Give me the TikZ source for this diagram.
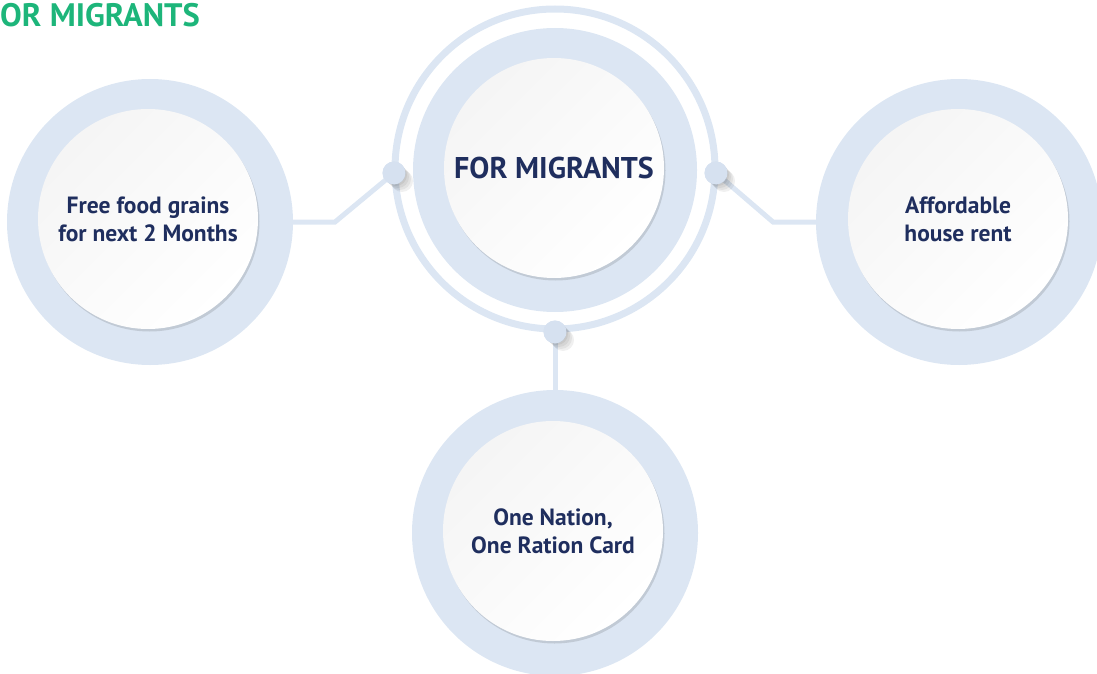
\documentclass[tikz,border=0pt]{standalone}
\usepackage{fontspec}
\setmainfont{PT Sans}
\usetikzlibrary{shadows}
\definecolor{ringblue}{RGB}{220,230,243}
\definecolor{dotblue}{RGB}{214,225,240}
\definecolor{navy}{RGB}{31,46,94}
\definecolor{titlegreen}{RGB}{29,181,122}
\begin{document}
\begin{tikzpicture}[x=1pt,y=-1pt,
  outerdisk/.style={circle, fill=ringblue, minimum size=286pt, inner sep=0pt},
  innerdisk/.style={circle, minimum size=220pt, inner sep=0pt,
    top color=black!4, bottom color=white, shading angle=45,
    drop shadow={shadow xshift=1.5pt, shadow yshift=-2.5pt, fill=black, opacity=0.12},
    text=navy, align=center, font=\bfseries\fontsize{23.5}{28}\selectfont},
  link/.style={draw=ringblue, line width=5pt},
  dotnode/.style={circle, fill=dotblue, minimum size=23pt, inner sep=0pt},
]
\useasboundingbox (0,0) rectangle (1097,674);
% title
\node[anchor=base west, inner sep=0pt, text=titlegreen, font=\bfseries\fontsize{32.5}{38}\selectfont] (title) at (0,27) {OR MIGRANTS};

% outer disks
\node[outerdisk] (lout) at (150,222) {};
\node[outerdisk] (rout) at (959,222) {};
\node[outerdisk] (bout) at (555,533) {};

% centre
\node[circle, draw=ringblue, line width=7pt, minimum size=320pt, inner sep=0pt] (cring) at (555,169) {};
\node[circle, fill=ringblue, minimum size=284pt, inner sep=0pt] (cdisk) at (555,170) {};

% connectors
\node[dotnode] (ldot) at (394,173) {};
\node[dotnode] (rdot) at (716,173) {};
\node[dotnode] (bdot) at (555,332) {};
\coordinate (lbend) at (335,222);
\coordinate (rbend) at (773,222);
\draw[link] (ldot.center) -- (lbend) -- (lout.east);
\draw[link] (rdot.center) -- (rbend) -- (rout.west);
\draw[link] (bdot.center) -- (bout.north);

% dot shadows
\foreach \d in {ldot,rdot,bdot}{
  \foreach \s in {2,4,6,8}{
    \fill[black, opacity=0.06] ([shift={(\s,\s)}]\d.center) circle (11pt);
  }
}
\node[dotnode] at (ldot) {};
\node[dotnode] at (rdot) {};
\node[dotnode] at (bdot) {};

% inner disks with text
\node[innerdisk, font=\bfseries\fontsize{30}{34}\selectfont] (cin) at (554,168) {FOR MIGRANTS};
\node[innerdisk] (lin) at (148,219) {Free food grains\\for next 2 Months};
\node[innerdisk] (rin) at (958,219) {Affordable\\house rent};
\node[innerdisk] (bin) at (553,531) {One Nation,\\One Ration Card};
\end{tikzpicture}
\end{document}
